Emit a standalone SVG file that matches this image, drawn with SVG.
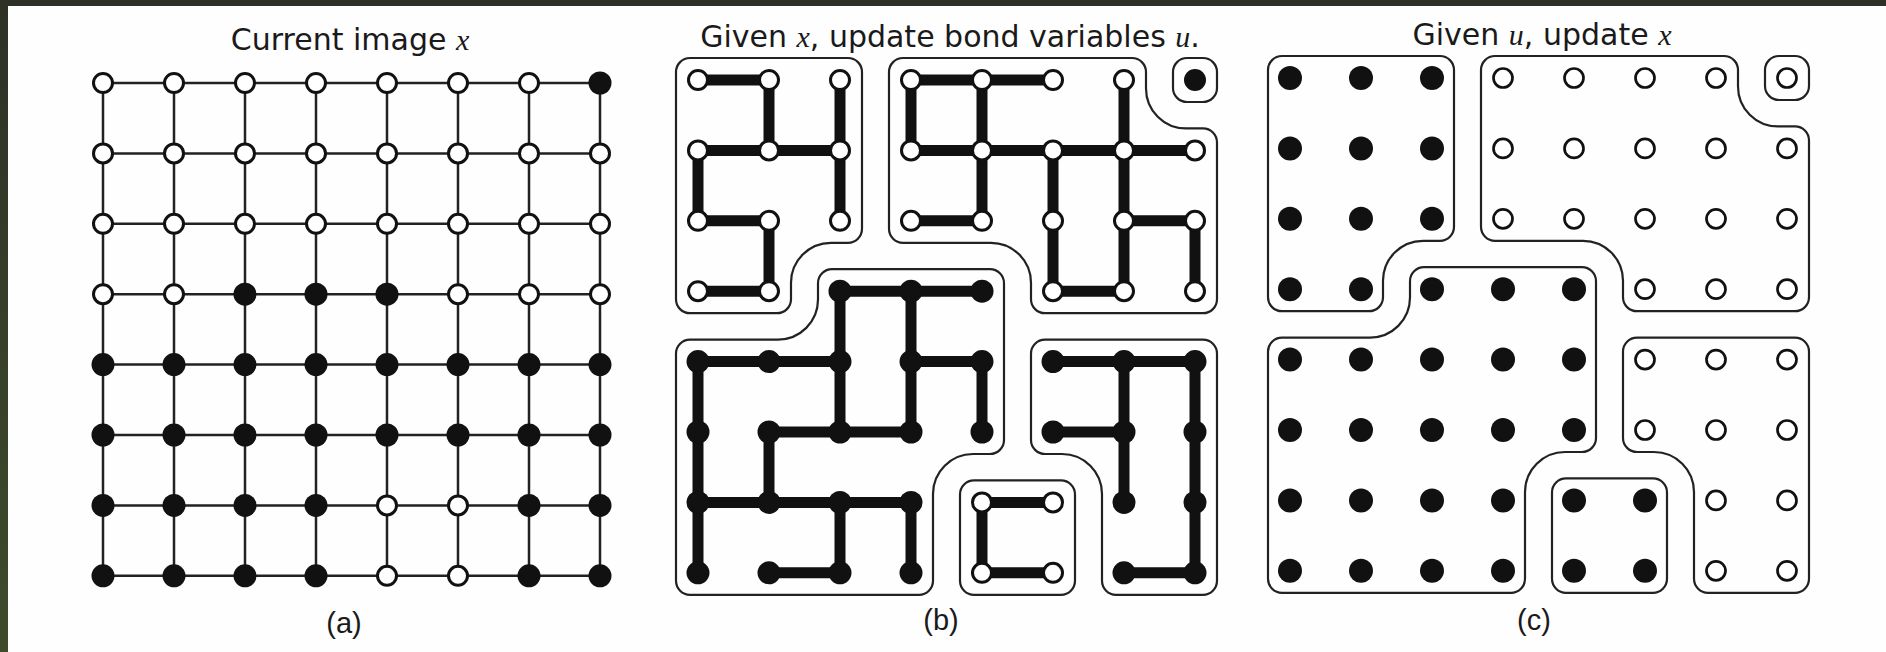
<svg xmlns="http://www.w3.org/2000/svg" width="1886" height="652" viewBox="0 0 1886 652">
<style>
.title{font-family:"DejaVu Sans",sans-serif;font-size:30px;fill:#1a1a1a}
.m{font-family:"Liberation Serif",serif;font-style:italic}
.lab{font-family:"Liberation Sans",sans-serif;font-size:29px;fill:#1a1a1a}
.grid{stroke:#222;stroke-width:2.5;fill:none}
.bond{stroke:#111;stroke-width:11;fill:none}
.cont{stroke:#222;stroke-width:2.2;fill:none}
.w{fill:#fff;stroke:#111;stroke-width:3}
.k{fill:#111}
.wc{fill:#fff;stroke:#111;stroke-width:2.7}
</style>
<defs>
<linearGradient id="edge" x1="0" y1="0" x2="0" y2="1">
<stop offset="0" stop-color="#2e3126"/>
<stop offset="1" stop-color="#3f4c2b"/>
</linearGradient>
<path id="cA" d="M -8,-22 H 150 A14 14 0 0 1 164,-8 V 148.8 A14 14 0 0 1 150,162.8 H 133 A40 40 0 0 0 93,202.8 V 219.2 A14 14 0 0 1 79,233.2 H -8 A14 14 0 0 1 -22,219.2 V -8 A14 14 0 0 1 -8,-22 Z"/>
<path id="cB" d="M 205,-22 H 434 A14 14 0 0 1 448,-8 V 8.4 A40 40 0 0 0 488,48.4 H 505 A14 14 0 0 1 519,62.4 V 219.2 A14 14 0 0 1 505,233.2 H 347 A14 14 0 0 1 333,219.2 V 202.8 A40 40 0 0 0 293,162.8 H 205 A14 14 0 0 1 191,148.8 V -8 A14 14 0 0 1 205,-22 Z"/>
<rect id="cS" x="475" y="-22" width="44" height="44" rx="14"/>
<path id="cK" d="M 134,189.2 H 292 A14 14 0 0 1 306,203.2 V 360 A14 14 0 0 1 292,374 H 275 A40 40 0 0 0 235,414 V 500.8 A14 14 0 0 1 221,514.8 H -8 A14 14 0 0 1 -22,500.8 V 273.6 A14 14 0 0 1 -8,259.6 H 80 A40 40 0 0 0 120,219.6 V 203.2 A14 14 0 0 1 134,189.2 Z"/>
<rect id="cW" x="262" y="400.4" width="115" height="114.4" rx="14"/>
<path id="cR" d="M 347,259.6 H 505 A14 14 0 0 1 519,273.6 V 500.8 A14 14 0 0 1 505,514.8 H 418 A14 14 0 0 1 404,500.8 V 414 A40 40 0 0 0 364,374 H 347 A14 14 0 0 1 333,360 V 273.6 A14 14 0 0 1 347,259.6 Z"/>
</defs>
<rect width="1886" height="652" fill="#fefefe"/>
<rect x="0" y="0" width="1886" height="6" fill="#2d3025"/>
<rect x="0" y="0" width="8" height="652" fill="url(#edge)"/>

<text class="title" x="350" y="50" text-anchor="middle">Current image <tspan class="m">x</tspan></text>
<text class="title" x="950" y="47" text-anchor="middle">Given <tspan class="m">x</tspan>, update bond variables <tspan class="m">u</tspan>.</text>
<text class="title" x="1542" y="45" text-anchor="middle">Given <tspan class="m">u</tspan>, update <tspan class="m">x</tspan></text>
<text class="lab" x="344" y="633" text-anchor="middle">(a)</text>
<text class="lab" x="941" y="630" text-anchor="middle">(b)</text>
<text class="lab" x="1534" y="630" text-anchor="middle">(c)</text>

<!-- Panel (a): current image -->
<g id="panel-a" transform="translate(103,83)">
<g id="a-lattice" class="grid">
<path d="M0,0H497M0,70.4H497M0,140.8H497M0,211.2H497M0,281.6H497M0,352H497M0,422.4H497M0,492.8H497"/>
<path d="M0,0V492.8M71,0V492.8M142,0V492.8M213,0V492.8M284,0V492.8M355,0V492.8M426,0V492.8M497,0V492.8"/>
</g>
<g id="a-sites">
<circle class="w" cx="0" cy="0" r="9.5"/><circle class="w" cx="71" cy="0" r="9.5"/><circle class="w" cx="142" cy="0" r="9.5"/><circle class="w" cx="213" cy="0" r="9.5"/><circle class="w" cx="284" cy="0" r="9.5"/><circle class="w" cx="355" cy="0" r="9.5"/><circle class="w" cx="426" cy="0" r="9.5"/><circle class="k" cx="497" cy="0" r="11.5"/>
<circle class="w" cx="0" cy="70.4" r="9.5"/><circle class="w" cx="71" cy="70.4" r="9.5"/><circle class="w" cx="142" cy="70.4" r="9.5"/><circle class="w" cx="213" cy="70.4" r="9.5"/><circle class="w" cx="284" cy="70.4" r="9.5"/><circle class="w" cx="355" cy="70.4" r="9.5"/><circle class="w" cx="426" cy="70.4" r="9.5"/><circle class="w" cx="497" cy="70.4" r="9.5"/>
<circle class="w" cx="0" cy="140.8" r="9.5"/><circle class="w" cx="71" cy="140.8" r="9.5"/><circle class="w" cx="142" cy="140.8" r="9.5"/><circle class="w" cx="213" cy="140.8" r="9.5"/><circle class="w" cx="284" cy="140.8" r="9.5"/><circle class="w" cx="355" cy="140.8" r="9.5"/><circle class="w" cx="426" cy="140.8" r="9.5"/><circle class="w" cx="497" cy="140.8" r="9.5"/>
<circle class="w" cx="0" cy="211.2" r="9.5"/><circle class="w" cx="71" cy="211.2" r="9.5"/><circle class="k" cx="142" cy="211.2" r="11.5"/><circle class="k" cx="213" cy="211.2" r="11.5"/><circle class="k" cx="284" cy="211.2" r="11.5"/><circle class="w" cx="355" cy="211.2" r="9.5"/><circle class="w" cx="426" cy="211.2" r="9.5"/><circle class="w" cx="497" cy="211.2" r="9.5"/>
<circle class="k" cx="0" cy="281.6" r="11.5"/><circle class="k" cx="71" cy="281.6" r="11.5"/><circle class="k" cx="142" cy="281.6" r="11.5"/><circle class="k" cx="213" cy="281.6" r="11.5"/><circle class="k" cx="284" cy="281.6" r="11.5"/><circle class="k" cx="355" cy="281.6" r="11.5"/><circle class="k" cx="426" cy="281.6" r="11.5"/><circle class="k" cx="497" cy="281.6" r="11.5"/>
<circle class="k" cx="0" cy="352" r="11.5"/><circle class="k" cx="71" cy="352" r="11.5"/><circle class="k" cx="142" cy="352" r="11.5"/><circle class="k" cx="213" cy="352" r="11.5"/><circle class="k" cx="284" cy="352" r="11.5"/><circle class="k" cx="355" cy="352" r="11.5"/><circle class="k" cx="426" cy="352" r="11.5"/><circle class="k" cx="497" cy="352" r="11.5"/>
<circle class="k" cx="0" cy="422.4" r="11.5"/><circle class="k" cx="71" cy="422.4" r="11.5"/><circle class="k" cx="142" cy="422.4" r="11.5"/><circle class="k" cx="213" cy="422.4" r="11.5"/><circle class="w" cx="284" cy="422.4" r="9.5"/><circle class="w" cx="355" cy="422.4" r="9.5"/><circle class="k" cx="426" cy="422.4" r="11.5"/><circle class="k" cx="497" cy="422.4" r="11.5"/>
<circle class="k" cx="0" cy="492.8" r="11.5"/><circle class="k" cx="71" cy="492.8" r="11.5"/><circle class="k" cx="142" cy="492.8" r="11.5"/><circle class="k" cx="213" cy="492.8" r="11.5"/><circle class="w" cx="284" cy="492.8" r="9.5"/><circle class="w" cx="355" cy="492.8" r="9.5"/><circle class="k" cx="426" cy="492.8" r="11.5"/><circle class="k" cx="497" cy="492.8" r="11.5"/>
</g>
</g>

<!-- Panel (b): bond variables -->
<g id="panel-b" transform="translate(698,80)">
<g id="b-contours" class="cont">
<use href="#cA"/><use href="#cB"/><use href="#cS"/><use href="#cK"/><use href="#cW"/><use href="#cR"/>
</g>
<g id="b-bonds" class="bond">
<path id="bonds-A" d="M0,0H71M0,70.4H142M0,140.8H71M0,211.2H71M71,0V70.4M142,0V140.8M0,70.4V140.8M71,140.8V211.2"/>
<path id="bonds-B" d="M213,0H355M213,70.4H497M213,140.8H284M426,140.8H497M355,211.2H426M213,0V70.4M284,0V140.8M426,0V211.2M355,70.4V211.2M497,140.8V211.2"/>
<path id="bonds-K" d="M142,211.2H284M0,281.6H142M213,281.6H284M71,352H213M0,422.4H213M71,492.8H142M142,211.2V352M213,211.2V352M0,281.6V492.8M284,281.6V352M71,352V422.4M142,422.4V492.8M213,422.4V492.8"/>
<path id="bonds-R" d="M355,281.6H497M355,352H426M426,492.8H497M426,281.6V422.4M497,281.6V492.8"/>
<path id="bonds-W" d="M284,422.4H355M284,492.8H355M284,422.4V492.8"/>
</g>
<g id="b-sites">
<circle class="w" cx="0" cy="0" r="9.5"/><circle class="w" cx="71" cy="0" r="9.5"/><circle class="w" cx="142" cy="0" r="9.5"/><circle class="w" cx="213" cy="0" r="9.5"/><circle class="w" cx="284" cy="0" r="9.5"/><circle class="w" cx="355" cy="0" r="9.5"/><circle class="w" cx="426" cy="0" r="9.5"/><circle class="k" cx="497" cy="0" r="11"/>
<circle class="w" cx="0" cy="70.4" r="9.5"/><circle class="w" cx="71" cy="70.4" r="9.5"/><circle class="w" cx="142" cy="70.4" r="9.5"/><circle class="w" cx="213" cy="70.4" r="9.5"/><circle class="w" cx="284" cy="70.4" r="9.5"/><circle class="w" cx="355" cy="70.4" r="9.5"/><circle class="w" cx="426" cy="70.4" r="9.5"/><circle class="w" cx="497" cy="70.4" r="9.5"/>
<circle class="w" cx="0" cy="140.8" r="9.5"/><circle class="w" cx="71" cy="140.8" r="9.5"/><circle class="w" cx="142" cy="140.8" r="9.5"/><circle class="w" cx="213" cy="140.8" r="9.5"/><circle class="w" cx="284" cy="140.8" r="9.5"/><circle class="w" cx="355" cy="140.8" r="9.5"/><circle class="w" cx="426" cy="140.8" r="9.5"/><circle class="w" cx="497" cy="140.8" r="9.5"/>
<circle class="w" cx="0" cy="211.2" r="9.5"/><circle class="w" cx="71" cy="211.2" r="9.5"/><circle class="k" cx="142" cy="211.2" r="11.5"/><circle class="k" cx="213" cy="211.2" r="11.5"/><circle class="k" cx="284" cy="211.2" r="11.5"/><circle class="w" cx="355" cy="211.2" r="9.5"/><circle class="w" cx="426" cy="211.2" r="9.5"/><circle class="w" cx="497" cy="211.2" r="9.5"/>
<circle class="k" cx="0" cy="281.6" r="11.5"/><circle class="k" cx="71" cy="281.6" r="11.5"/><circle class="k" cx="142" cy="281.6" r="11.5"/><circle class="k" cx="213" cy="281.6" r="11.5"/><circle class="k" cx="284" cy="281.6" r="11.5"/><circle class="k" cx="355" cy="281.6" r="11.5"/><circle class="k" cx="426" cy="281.6" r="11.5"/><circle class="k" cx="497" cy="281.6" r="11.5"/>
<circle class="k" cx="0" cy="352" r="11.5"/><circle class="k" cx="71" cy="352" r="11.5"/><circle class="k" cx="142" cy="352" r="11.5"/><circle class="k" cx="213" cy="352" r="11.5"/><circle class="k" cx="284" cy="352" r="11.5"/><circle class="k" cx="355" cy="352" r="11.5"/><circle class="k" cx="426" cy="352" r="11.5"/><circle class="k" cx="497" cy="352" r="11.5"/>
<circle class="k" cx="0" cy="422.4" r="11.5"/><circle class="k" cx="71" cy="422.4" r="11.5"/><circle class="k" cx="142" cy="422.4" r="11.5"/><circle class="k" cx="213" cy="422.4" r="11.5"/><circle class="w" cx="284" cy="422.4" r="9.5"/><circle class="w" cx="355" cy="422.4" r="9.5"/><circle class="k" cx="426" cy="422.4" r="11.5"/><circle class="k" cx="497" cy="422.4" r="11.5"/>
<circle class="k" cx="0" cy="492.8" r="11.5"/><circle class="k" cx="71" cy="492.8" r="11.5"/><circle class="k" cx="142" cy="492.8" r="11.5"/><circle class="k" cx="213" cy="492.8" r="11.5"/><circle class="w" cx="284" cy="492.8" r="9.5"/><circle class="w" cx="355" cy="492.8" r="9.5"/><circle class="k" cx="426" cy="492.8" r="11.5"/><circle class="k" cx="497" cy="492.8" r="11.5"/>
</g>
</g>

<!-- Panel (c): updated image -->
<g id="panel-c" transform="translate(1290,78)">
<g id="c-contours" class="cont">
<use href="#cA"/><use href="#cB"/><use href="#cS"/><use href="#cK"/><use href="#cW"/><use href="#cR"/>
</g>
<g id="c-sites">
<circle class="k" cx="0" cy="0" r="12"/><circle class="k" cx="71" cy="0" r="12"/><circle class="k" cx="142" cy="0" r="12"/><circle class="wc" cx="213" cy="0" r="9.5"/><circle class="wc" cx="284" cy="0" r="9.5"/><circle class="wc" cx="355" cy="0" r="9.5"/><circle class="wc" cx="426" cy="0" r="9.5"/><circle class="wc" cx="497" cy="0" r="9.5"/>
<circle class="k" cx="0" cy="70.4" r="12"/><circle class="k" cx="71" cy="70.4" r="12"/><circle class="k" cx="142" cy="70.4" r="12"/><circle class="wc" cx="213" cy="70.4" r="9.5"/><circle class="wc" cx="284" cy="70.4" r="9.5"/><circle class="wc" cx="355" cy="70.4" r="9.5"/><circle class="wc" cx="426" cy="70.4" r="9.5"/><circle class="wc" cx="497" cy="70.4" r="9.5"/>
<circle class="k" cx="0" cy="140.8" r="12"/><circle class="k" cx="71" cy="140.8" r="12"/><circle class="k" cx="142" cy="140.8" r="12"/><circle class="wc" cx="213" cy="140.8" r="9.5"/><circle class="wc" cx="284" cy="140.8" r="9.5"/><circle class="wc" cx="355" cy="140.8" r="9.5"/><circle class="wc" cx="426" cy="140.8" r="9.5"/><circle class="wc" cx="497" cy="140.8" r="9.5"/>
<circle class="k" cx="0" cy="211.2" r="12"/><circle class="k" cx="71" cy="211.2" r="12"/><circle class="k" cx="142" cy="211.2" r="12"/><circle class="k" cx="213" cy="211.2" r="12"/><circle class="k" cx="284" cy="211.2" r="12"/><circle class="wc" cx="355" cy="211.2" r="9.5"/><circle class="wc" cx="426" cy="211.2" r="9.5"/><circle class="wc" cx="497" cy="211.2" r="9.5"/>
<circle class="k" cx="0" cy="281.6" r="12"/><circle class="k" cx="71" cy="281.6" r="12"/><circle class="k" cx="142" cy="281.6" r="12"/><circle class="k" cx="213" cy="281.6" r="12"/><circle class="k" cx="284" cy="281.6" r="12"/><circle class="wc" cx="355" cy="281.6" r="9.5"/><circle class="wc" cx="426" cy="281.6" r="9.5"/><circle class="wc" cx="497" cy="281.6" r="9.5"/>
<circle class="k" cx="0" cy="352" r="12"/><circle class="k" cx="71" cy="352" r="12"/><circle class="k" cx="142" cy="352" r="12"/><circle class="k" cx="213" cy="352" r="12"/><circle class="k" cx="284" cy="352" r="12"/><circle class="wc" cx="355" cy="352" r="9.5"/><circle class="wc" cx="426" cy="352" r="9.5"/><circle class="wc" cx="497" cy="352" r="9.5"/>
<circle class="k" cx="0" cy="422.4" r="12"/><circle class="k" cx="71" cy="422.4" r="12"/><circle class="k" cx="142" cy="422.4" r="12"/><circle class="k" cx="213" cy="422.4" r="12"/><circle class="k" cx="284" cy="422.4" r="12"/><circle class="k" cx="355" cy="422.4" r="12"/><circle class="wc" cx="426" cy="422.4" r="9.5"/><circle class="wc" cx="497" cy="422.4" r="9.5"/>
<circle class="k" cx="0" cy="492.8" r="12"/><circle class="k" cx="71" cy="492.8" r="12"/><circle class="k" cx="142" cy="492.8" r="12"/><circle class="k" cx="213" cy="492.8" r="12"/><circle class="k" cx="284" cy="492.8" r="12"/><circle class="k" cx="355" cy="492.8" r="12"/><circle class="wc" cx="426" cy="492.8" r="9.5"/><circle class="wc" cx="497" cy="492.8" r="9.5"/>
</g>
</g>
</svg>
